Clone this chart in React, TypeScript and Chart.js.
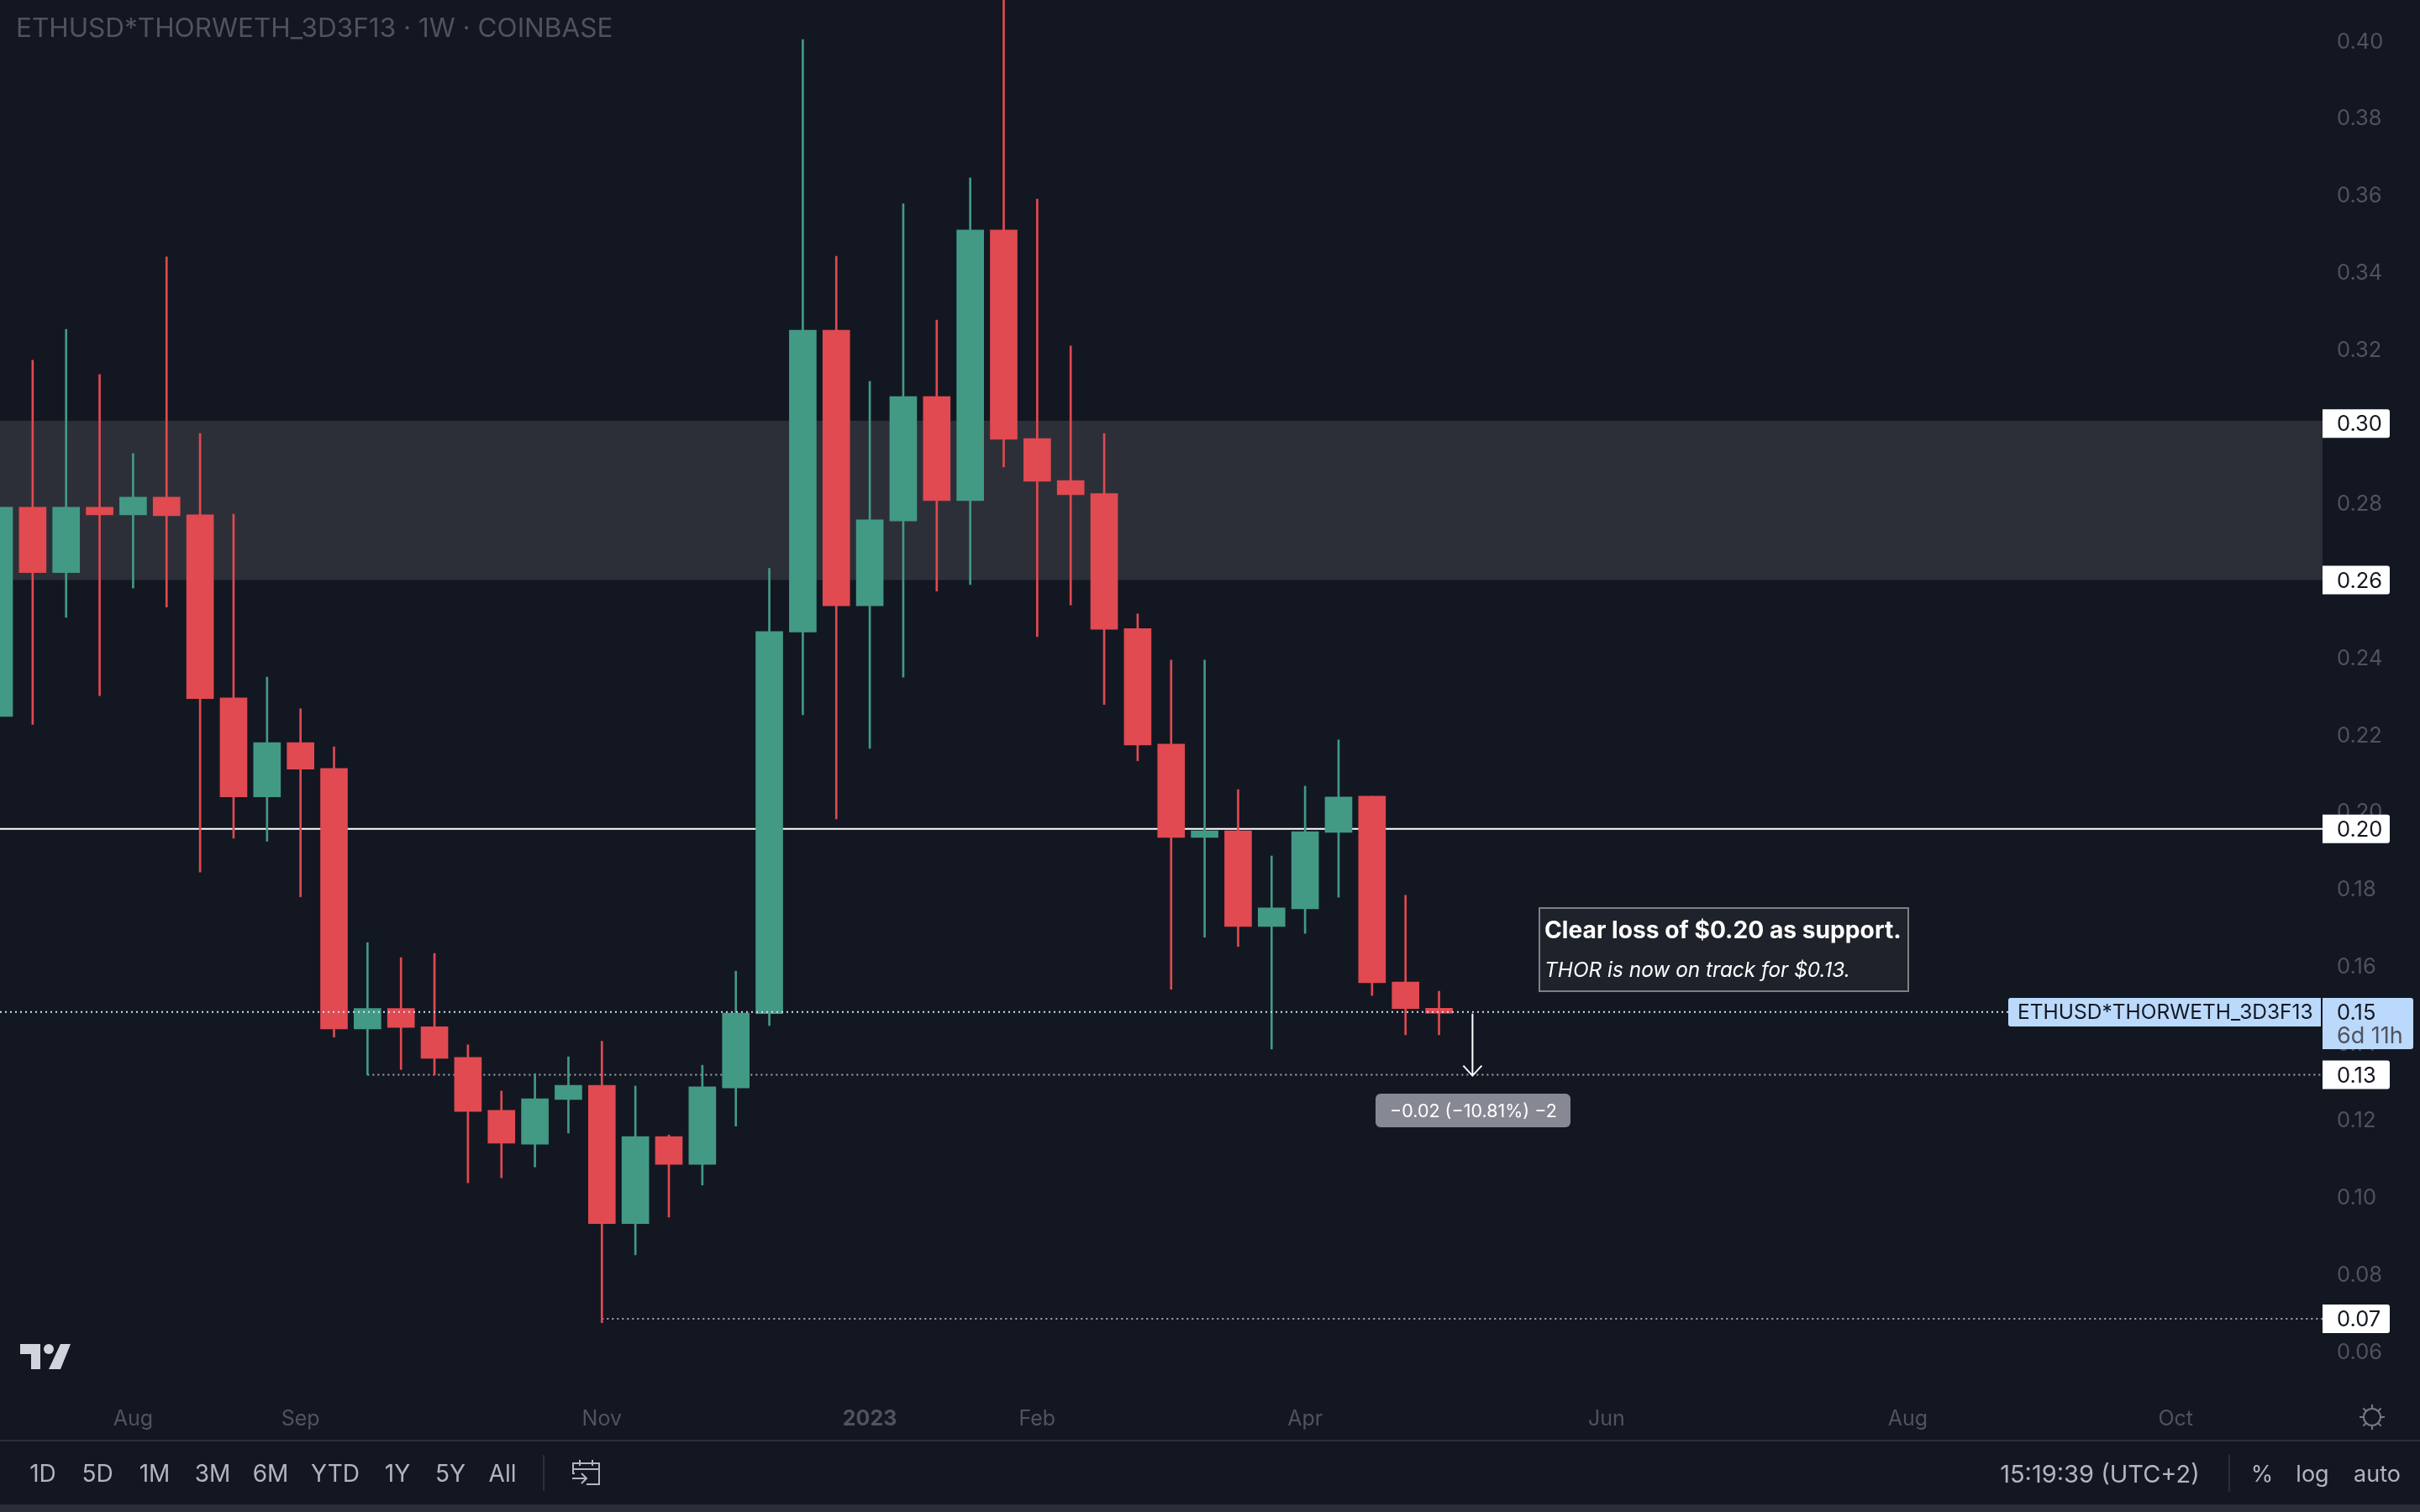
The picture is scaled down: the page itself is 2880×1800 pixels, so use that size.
import { useEffect, useRef } from "react";
import { Chart, registerables } from "chart.js";

Chart.register(...registerables);

// weekly candles, first visible week is Jul 4 2022
const opens = [
	0.2247, 0.279, 0.262, 0.279, 0.277, 0.2816, 0.277, 0.2295, 0.2038, 0.2179, 0.2112,
	0.1436, 0.1489, 0.1442, 0.1362, 0.1225, 0.1137, 0.1253, 0.129, 0.0931, 0.1157, 0.1085,
	0.1283, 0.1476, 0.2466, 0.3249, 0.2534, 0.2754, 0.3077, 0.2807, 0.3509, 0.2968, 0.2859,
	0.2825, 0.2475, 0.2175, 0.1933, 0.195, 0.1702, 0.1748, 0.1946, 0.204, 0.1558, 0.149,
];
const highs = [
	0.279, 0.3171, 0.3251, 0.3134, 0.2929, 0.3439, 0.2981, 0.2772, 0.2349, 0.2267, 0.2168,
	0.166, 0.1621, 0.1632, 0.1395, 0.1275, 0.132, 0.1364, 0.1404, 0.1288, 0.1161, 0.1342,
	0.1586, 0.2631, 0.4003, 0.3441, 0.3116, 0.3577, 0.3275, 0.3644, 0.4117, 0.3589, 0.3208,
	0.2981, 0.2513, 0.2393, 0.2393, 0.2057, 0.1885, 0.2066, 0.2186, 0.204, 0.1783, 0.1534,
];
const lows = [
	0.2247, 0.2226, 0.2504, 0.2301, 0.258, 0.2531, 0.1843, 0.1931, 0.1923, 0.1779, 0.1415,
	0.1317, 0.1331, 0.1317, 0.1037, 0.105, 0.1078, 0.1166, 0.0674, 0.085, 0.0948, 0.1031,
	0.1184, 0.1445, 0.2251, 0.1981, 0.2164, 0.2349, 0.2572, 0.2589, 0.2894, 0.2454, 0.2536,
	0.2278, 0.2132, 0.1539, 0.1674, 0.165, 0.1384, 0.1684, 0.1778, 0.1523, 0.1421, 0.1421,
];
const closes = [
	0.279, 0.262, 0.279, 0.277, 0.2816, 0.2768, 0.2293, 0.2038, 0.2179, 0.211, 0.1436,
	0.1489, 0.144, 0.136, 0.1222, 0.114, 0.1255, 0.129, 0.0931, 0.1157, 0.1085, 0.1286,
	0.1477, 0.2467, 0.3249, 0.2534, 0.2757, 0.3077, 0.2807, 0.3509, 0.2966, 0.2857, 0.2822,
	0.2473, 0.2173, 0.1933, 0.195, 0.1702, 0.175, 0.1948, 0.2038, 0.1556, 0.1489, 0.1477,
];

const priceTicks = [
	0.06, 0.08, 0.1, 0.12, 0.14, 0.16, 0.18, 0.2, 0.22, 0.24, 0.26, 0.28, 0.3, 0.32, 0.34,
	0.36, 0.38, 0.4,
];
const timeTickWeeks = [4, 9, 18, 26, 31, 39, 48, 57, 65];
const timeTickLabels = ["Aug", "Sep", "Nov", "2023", "Feb", "Apr", "Jun", "Aug", "Oct"];

const zoneTop = 0.3014;
const zoneBottom = 0.2601;
const supportLevel = 0.1955;
const lastPrice = 0.148;
const targetLevel = 0.1317;
const lowLevel = 0.0684;
const tagValues = [0.3007, 0.2601, 0.1955, 0.1317, 0.0684];
const tagLabels = ["0.30", "0.26", "0.20", "0.13", "0.07"];
const targetStartWeek = 11;
const lowStartWeek = 18;
const arrowWeek = 44;

const rangeLabels = ["1D", "5D", "1M", "3M", "6M", "YTD", "1Y", "5Y", "All"];
const rangeCenters = [51, 116, 184, 253, 322, 399, 473, 536, 598];

const GREEN = "#429a85";
const RED = "#e04a50";
const BG = "#131722";
const MUTED = "#50535e";
const FONT = "Inter, 'Noto Sans', sans-serif";

const isUp = (i: number) => closes[i] >= opens[i];

const overlayBehind = {
	id: "overlayBehind",
	beforeDatasetsDraw(chart: any) {
		const { ctx, chartArea, scales } = chart;
		const { x, y } = scales;
		ctx.save();
		// supply / demand zone
		ctx.fillStyle = "#2c2f38";
		ctx.fillRect(0, y.getPixelForValue(zoneTop), chartArea.right, y.getPixelForValue(zoneBottom) - y.getPixelForValue(zoneTop));
		// support line
		ctx.strokeStyle = "#ffffff";
		ctx.lineWidth = 2;
		ctx.beginPath();
		ctx.moveTo(0, y.getPixelForValue(supportLevel));
		ctx.lineTo(chartArea.right, y.getPixelForValue(supportLevel));
		ctx.stroke();
		// dotted horizontals
		ctx.strokeStyle = "#a3a6af";
		ctx.setLineDash([2, 4]);
		ctx.lineWidth = 2;
		ctx.beginPath();
		ctx.moveTo(x.getPixelForValue(targetStartWeek), y.getPixelForValue(targetLevel));
		ctx.lineTo(chartArea.right, y.getPixelForValue(targetLevel));
		ctx.moveTo(x.getPixelForValue(lowStartWeek), y.getPixelForValue(lowLevel));
		ctx.lineTo(chartArea.right, y.getPixelForValue(lowLevel));
		ctx.stroke();
		ctx.restore();
	},
};

const roundedBox = (ctx: any, l: number, t: number, w: number, h: number, r: any) => {
	ctx.beginPath();
	ctx.roundRect(l, t, w, h, r);
	ctx.fill();
};

const noScalePadding = (scale: any) => {
	scale.paddingTop = 0;
	scale.paddingBottom = 0;
	scale.paddingLeft = 0;
	scale.paddingRight = 0;
};

const overlayFront = {
	id: "overlayFront",
	afterDraw(chart: any) {
		const { ctx, chartArea, scales } = chart;
		const { x, y } = scales;
		const right = chartArea.right;
		ctx.save();
		ctx.textBaseline = "middle";

		// last price line
		const lastY = y.getPixelForValue(lastPrice);
		ctx.strokeStyle = "#cfe0f7";
		ctx.lineWidth = 2;
		ctx.setLineDash([2, 4]);
		ctx.beginPath();
		ctx.moveTo(0, lastY);
		ctx.lineTo(2390, lastY);
		ctx.stroke();
		ctx.setLineDash([]);

		// title
		ctx.textAlign = "left";
		ctx.fillStyle = MUTED;
		ctx.font = `31.5px ${FONT}`;
		ctx.fillText("ETHUSD*THORWETH_3D3F13 · 1W · COINBASE", 19, 35);

		// measure arrow
		const ax = x.getPixelForValue(arrowWeek);
		const aEnd = y.getPixelForValue(targetLevel);
		ctx.strokeStyle = "#ffffff";
		ctx.lineWidth = 2;
		ctx.beginPath();
		ctx.moveTo(ax, lastY + 2);
		ctx.lineTo(ax, aEnd + 1);
		ctx.moveTo(ax - 11, aEnd - 11);
		ctx.lineTo(ax, aEnd + 1);
		ctx.lineTo(ax + 11, aEnd - 11);
		ctx.stroke();
		ctx.fillStyle = "#868993";
		roundedBox(ctx, 1637, 1302, 232, 40, 6);
		ctx.fillStyle = "#ffffff";
		ctx.textAlign = "center";
		ctx.font = `21.5px ${FONT}`;
		ctx.fillText("−0.02 (−10.81%) −2", ax + 1, 1324);

		// note box
		ctx.fillStyle = "#1e222a";
		ctx.fillRect(1832, 1081, 439, 99);
		ctx.strokeStyle = "#7d7f84";
		ctx.lineWidth = 2;
		ctx.strokeRect(1832, 1081, 439, 99);
		ctx.textAlign = "left";
		ctx.fillStyle = "#ffffff";
		ctx.font = `bold 28.2px ${FONT}`;
		ctx.fillText("Clear loss of $0.20 as support.", 1838, 1109);
		ctx.font = `italic 24.4px ${FONT}`;
		ctx.fillText("THOR is now on track for $0.13.", 1838, 1156);

		// price tags
		ctx.font = `25.5px ${FONT}`;
		tagValues.forEach((v, i) => {
			const py = y.getPixelForValue(v);
			ctx.fillStyle = "#ffffff";
			roundedBox(ctx, right, py - 17, 80, 34, [0, 3, 3, 0]);
			ctx.fillStyle = "#131722";
			ctx.fillText(tagLabels[i], 2781, py + 1.5);
		});

		// last price tags
		ctx.fillStyle = "#bbd9fb";
		roundedBox(ctx, right, 1188, 108, 61, [0, 3, 3, 0]);
		roundedBox(ctx, 2390, 1188, 372, 34, [3, 0, 0, 3]);
		ctx.fillStyle = "#131722";
		ctx.fillText("0.15", 2781, 1206);
		ctx.font = `24.5px ${FONT}`;
		ctx.fillText("ETHUSD*THORWETH_3D3F13", 2401, 1206);
		ctx.font = `27px ${FONT}`;
		ctx.fillStyle = "#50535e";
		ctx.fillText("6d 11h", 2781, 1234);

		// tradingview mark
		ctx.fillStyle = "#d1d4dc";
		ctx.beginPath();
		ctx.moveTo(24, 1600);
		ctx.lineTo(48, 1600);
		ctx.lineTo(48, 1630);
		ctx.lineTo(37, 1630);
		ctx.lineTo(37, 1612);
		ctx.lineTo(24, 1612);
		ctx.closePath();
		ctx.moveTo(72, 1600);
		ctx.lineTo(84, 1600);
		ctx.lineTo(72, 1630);
		ctx.lineTo(58, 1630);
		ctx.closePath();
		ctx.fill();
		ctx.beginPath();
		ctx.arc(58, 1606, 6, 0, Math.PI * 2);
		ctx.fill();

		// settings sun
		ctx.strokeStyle = "#787b86";
		ctx.lineWidth = 2;
		ctx.beginPath();
		ctx.arc(2823, 1687, 10, 0, Math.PI * 2);
		for (let a = 0; a < 8; a++) {
			const t = (a * Math.PI) / 4;
			ctx.moveTo(2823 + Math.cos(t) * 10, 1687 + Math.sin(t) * 10);
			ctx.lineTo(2823 + Math.cos(t) * 15, 1687 + Math.sin(t) * 15);
		}
		ctx.stroke();

		// bottom toolbar
		ctx.fillStyle = "#2a2e39";
		ctx.fillRect(0, 1714, 2880, 2);
		ctx.fillRect(0, 1791, 2880, 9);
		ctx.fillRect(646, 1732, 2, 43);
		ctx.fillRect(2652, 1732, 2, 44);
		ctx.fillStyle = "#b2b5be";
		ctx.textAlign = "center";
		ctx.font = `28px ${FONT}`;
		rangeLabels.forEach((label, i) => ctx.fillText(label, rangeCenters[i], 1756));
		ctx.font = `27px ${FONT}`;
		ctx.fillText("%", 2692, 1756);
		ctx.fillText("log", 2752, 1756);
		ctx.fillText("auto", 2829, 1756);
		ctx.font = `29px ${FONT}`;
		ctx.fillText("15:19:39 (UTC+2)", 2499, 1756);

		// go-to-date icon
		ctx.strokeStyle = "#b2b5be";
		ctx.lineWidth = 2;
		ctx.beginPath();
		ctx.moveTo(684, 1754);
		ctx.lineTo(682, 1754);
		ctx.lineTo(682, 1742);
		ctx.lineTo(713, 1742);
		ctx.lineTo(713, 1767);
		ctx.lineTo(698, 1767);
		ctx.moveTo(682, 1749);
		ctx.lineTo(713, 1749);
		ctx.moveTo(690, 1738);
		ctx.lineTo(690, 1745);
		ctx.moveTo(705, 1738);
		ctx.lineTo(705, 1745);
		ctx.moveTo(681, 1760);
		ctx.lineTo(698, 1760);
		ctx.moveTo(692, 1754);
		ctx.lineTo(698, 1760);
		ctx.lineTo(692, 1766);
		ctx.stroke();

		ctx.restore();
	},
};

const App = () => {
	const chartRef = useRef<HTMLCanvasElement | null>(null);

	useEffect(() => {
		const myChart = new Chart(chartRef.current as any, {
			type: "bar",
			data: {
				datasets: [
					{
						label: "wick",
						data: opens.map((_, i) => ({ x: i, y: [lows[i], highs[i]] })),
						backgroundColor: opens.map((_, i) => (isUp(i) ? GREEN : RED)),
						barThickness: 2,
						borderWidth: 0,
						borderSkipped: false,
						grouped: false,
					},
					{
						label: "body",
						data: opens.map((_, i) => ({ x: i, y: [opens[i], closes[i]] })),
						backgroundColor: opens.map((_, i) => (isUp(i) ? GREEN : RED)),
						barThickness: 32,
						borderWidth: 0,
						borderSkipped: false,
						grouped: false,
					},
				] as any,
			},
			options: {
				responsive: false,
				devicePixelRatio: 1,
				animation: false,
				layout: { padding: 0 },
				plugins: {
					legend: { display: false },
					tooltip: { enabled: false },
				},
				scales: {
					x: {
						type: "linear",
						offset: false,
						min: 0.0251,
						max: 69.385,
						grid: { display: false, drawTicks: false, offset: false },
						border: { display: false },
						afterBuildTicks: (scale: any) => {
							scale.ticks = timeTickWeeks.map((value) => ({ value }));
						},
						afterFit: (scale: any) => {
							scale.height = 138;
							noScalePadding(scale);
						},
						ticks: {
							autoSkip: false,
							maxRotation: 0,
							padding: 12,
							color: MUTED,
							font: (c: any) => ({
								family: FONT,
								size: 25,
								weight: c.tick && c.tick.value === 26 ? "bold" : "normal",
							}),
							callback: (value: any) => timeTickLabels[timeTickWeeks.indexOf(value)],
						},
					},
					y: {
						type: "linear",
						position: "right",
						min: 0.04836,
						max: 0.41057,
						grid: { display: false, drawTicks: false },
						border: { display: false },
						afterBuildTicks: (scale: any) => {
							scale.ticks = priceTicks.map((value) => ({ value }));
						},
						afterFit: (scale: any) => {
							scale.width = 116;
							noScalePadding(scale);
						},
						ticks: {
							autoSkip: false,
							padding: 17,
							labelOffset: 1.5,
							crossAlign: "near",
							color: MUTED,
							font: { family: FONT, size: 25.5 },
							callback: (value: any) => value.toFixed(2),
						},
					},
				},
			} as any,
			plugins: [overlayBehind, overlayFront],
		});

		return () => {
			myChart.destroy();
		};
	}, []);

	return (
		<div style={{ position: "fixed", left: 0, top: 0, width: 2880, height: 1800, background: BG }}>
			<canvas ref={chartRef} width={2880} height={1800} style={{ display: "block", width: 2880, height: 1800 }} />
		</div>
	);
};

export default App;
